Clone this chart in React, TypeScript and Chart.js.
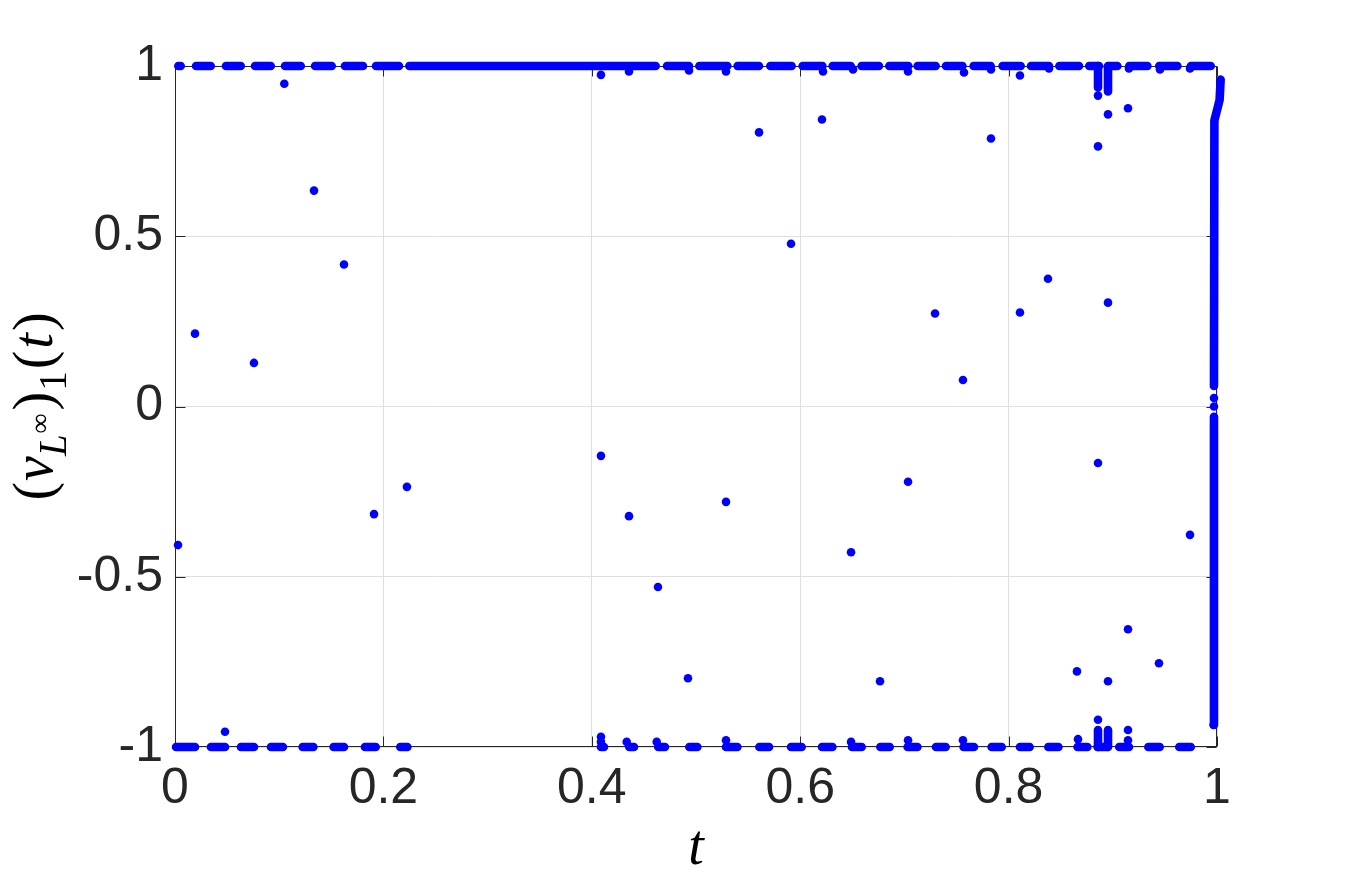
import React, { useEffect, useRef } from "react";
import { Chart, registerables } from "chart.js";

Chart.register(...registerables);

// ---- axis ticks ----
const xTickValues = [0, 0.2, 0.4, 0.6, 0.8, 1];
const xTickLabels = ["0", "0.2", "0.4", "0.6", "0.8", "1"];
const yTickValues = [-1, -0.5, 0, 0.5, 1];
const yTickLabels = ["-1", "-0.5", "0", "0.5", "1"];

// ---- dense runs of points sitting on y = 1 (start / end of each run in t) ----
const topRunStart = [0.0032, 0.0202, 0.0489, 0.0768, 0.1056, 0.1344, 0.1631, 0.1929, 0.2249, 0.4722, 0.5032, 0.5399, 0.5713, 0.6023, 0.6311, 0.6589, 0.6855, 0.7127, 0.7399, 0.7664, 0.7942, 0.8215, 0.8487, 0.8774, 0.8966, 0.9158, 0.9446, 0.975];
const topRunEnd = [0.0055, 0.0343, 0.0631, 0.0919, 0.1207, 0.1504, 0.1804, 0.215, 0.4613, 0.4933, 0.5301, 0.5605, 0.5918, 0.6213, 0.6485, 0.6756, 0.7038, 0.73, 0.7557, 0.7828, 0.8116, 0.8388, 0.8676, 0.8868, 0.9044, 0.9332, 0.962, 0.994];

// ---- dense runs of points sitting on y = -1 ----
const bottomRunStart = [0.001, 0.0345, 0.0633, 0.0921, 0.1225, 0.1522, 0.1823, 0.2162, 0.4088, 0.436, 0.4638, 0.4936, 0.5288, 0.5608, 0.5912, 0.6209, 0.6497, 0.6769, 0.7031, 0.7303, 0.7568, 0.7837, 0.8109, 0.8381, 0.8662, 0.8854, 0.9062, 0.9341, 0.9638];
const bottomRunEnd = [0.0192, 0.048, 0.0758, 0.1036, 0.1328, 0.1622, 0.1926, 0.223, 0.4117, 0.4405, 0.4702, 0.5013, 0.5397, 0.5701, 0.6014, 0.6309, 0.659, 0.6859, 0.7125, 0.7396, 0.7668, 0.7934, 0.8202, 0.8478, 0.8756, 0.8948, 0.9155, 0.945, 0.9748];

// ---- near-vertical runs (t0, y0) -> (t1, y1) ----
const vRunT0 = [0.8858, 0.8954, 0.8858, 0.8954, 0.9966, 0.9971, 0.9975, 1.0025];
const vRunY0 = [1, 1, -1, -1, -0.935, 0.06, 0.84, 0.9];
const vRunT1 = [0.8858, 0.8954, 0.8858, 0.8954, 0.9971, 0.9975, 1.0025, 1.0035];
const vRunY1 = [0.937, 0.925, -0.95, -0.95, -0.03, 0.84, 0.9, 0.96];

// ---- points just off the +/-1 levels ----
const nearEdgeT = [0.4088, 0.4357, 0.4933, 0.5288, 0.6219, 0.6507, 0.7035, 0.7572, 0.7831, 0.8109, 0.8388, 0.9155, 0.9453, 0.9741, 0.8858, 0.8954,
  0.4088, 0.4088, 0.4335, 0.4623, 0.5288, 0.6488, 0.7035, 0.7562, 0.8666, 0.8858, 0.9146, 0.9146, 0.9971, 0.9971];
const nearEdgeY = [0.974, 0.984, 0.987, 0.984, 0.984, 0.99, 0.984, 0.981, 0.99, 0.972, 0.993, 0.993, 0.99, 0.993, 0.913, 0.858,
  -0.97, -0.985, -0.985, -0.985, -0.98, -0.985, -0.98, -0.98, -0.977, -0.92, -0.95, -0.98, 0.0, 0.025];

// ---- scattered points ----
const scatterT = [0.0029, 0.0192, 0.048, 0.0758, 0.1049, 0.1334, 0.1622, 0.191, 0.2226, 0.4088, 0.4357, 0.4635, 0.4923, 0.5288, 0.5605, 0.5912, 0.6209, 0.6488, 0.6766, 0.7035, 0.7294, 0.7562, 0.7831, 0.8109, 0.8378, 0.8656, 0.8858, 0.8858, 0.8954, 0.8954, 0.9146, 0.9146, 0.9443, 0.9741];
const scatterV = [-0.407, 0.214, -0.955, 0.128, 0.948, 0.634, 0.417, -0.316, -0.236, -0.145, -0.322, -0.53, -0.798, -0.28, 0.805, 0.478, 0.843, -0.428, -0.807, -0.221, 0.273, 0.078, 0.787, 0.276, 0.375, -0.778, -0.166, 0.764, 0.305, -0.807, 0.876, -0.654, -0.754, -0.377];

const BLUE = "#0000ff";
const INK = "#262626";
const DOT_R = 4.3;

function runsAtLevel(starts: number[], ends: number[], level: number) {
  const out: any[] = [];
  starts.forEach((s, i) => {
    out.push({ x: s, y: level }, { x: ends[i], y: level }, { x: ends[i], y: null });
  });
  return out;
}

function vRuns() {
  const out: any[] = [];
  vRunT0.forEach((t0, i) => {
    out.push({ x: t0, y: vRunY0[i] }, { x: vRunT1[i], y: vRunY1[i] }, { x: vRunT1[i], y: null });
  });
  return out;
}

const framePlugin = {
  id: "matlabFrame",
  beforeDatasetsDraw(chart: any) {
    const { ctx, chartArea: a, scales } = chart;
    ctx.save();
    ctx.strokeStyle = INK;
    ctx.lineWidth = 1;
    const L = Math.round(a.left) + 0.5;
    const R = Math.round(a.right) - 0.5;
    const T = Math.round(a.top) + 0.5;
    const B = Math.round(a.bottom) - 0.5;
    ctx.strokeRect(L, T, R - L, B - T);
    const tl = 10;
    ctx.beginPath();
    for (const v of xTickValues) {
      const px = Math.round(scales.x.getPixelForValue(v)) + 0.5;
      ctx.moveTo(px, B);
      ctx.lineTo(px, B - tl);
      ctx.moveTo(px, T);
      ctx.lineTo(px, T + tl);
    }
    for (const v of yTickValues) {
      const py = Math.round(scales.y.getPixelForValue(v)) + 0.5;
      ctx.moveTo(L, py);
      ctx.lineTo(L + tl, py);
      ctx.moveTo(R, py);
      ctx.lineTo(R - tl, py);
    }
    ctx.stroke();
    ctx.restore();
  },
};

const titlePlugin = {
  id: "mathTitles",
  afterDraw(chart: any) {
    const { ctx, chartArea: a } = chart;
    const S = 56;
    const serif = "'Liberation Serif', 'Times New Roman', serif";
    ctx.save();
    ctx.fillStyle = "#000000";
    // x label
    ctx.font = `italic ${S}px ${serif}`;
    ctx.textAlign = "center";
    ctx.textBaseline = "alphabetic";
    ctx.fillText("t", (a.left + a.right) / 2, 864);

    // y label: (v_{L^\infty})_1(t)
    const sub = Math.round(S * 0.7);
    const sup = Math.round(S * 0.5);
    const pieces = [
      { t: "(", f: `${S}px ${serif}`, dy: 0, gap: 0 },
      { t: "v", f: `italic ${S}px ${serif}`, dy: 0, gap: 1 },
      { t: "L", f: `italic ${sub}px ${serif}`, dy: S * 0.25, gap: 0 },
      { t: "\u221e", f: `${sup}px ${serif}`, dy: -S * 0.05, gap: 1 },
      { t: ")", f: `${S}px ${serif}`, dy: 0, gap: 3 },
      { t: "1", f: `${sub}px ${serif}`, dy: S * 0.25, gap: 1 },
      { t: "(", f: `${S}px ${serif}`, dy: 0, gap: 2 },
      { t: "t", f: `italic ${S}px ${serif}`, dy: 0, gap: 2 },
      { t: ")", f: `${S}px ${serif}`, dy: 0, gap: 2 },
    ];
    let total = 0;
    const widths = pieces.map((p) => {
      ctx.font = p.f;
      const w = ctx.measureText(p.t).width;
      total += w + p.gap;
      return w;
    });
    const cy = (a.top + a.bottom) / 2;
    ctx.translate(52, cy);
    ctx.rotate(-Math.PI / 2);
    ctx.textAlign = "left";
    let u = -total / 2;
    pieces.forEach((p, i) => {
      u += p.gap;
      ctx.font = p.f;
      ctx.fillText(p.t, u, p.dy);
      u += widths[i];
    });
    ctx.restore();
  },
};

export default function App() {
  const ref = useRef<HTMLCanvasElement | null>(null);

  useEffect(() => {
    if (!ref.current) return;
    const tickFont = { family: "'Liberation Sans', Arial, Helvetica, sans-serif", size: 50 };
    const lineStyle = {
      showLine: true,
      borderColor: BLUE,
      borderWidth: DOT_R * 2,
      borderCapStyle: "round",
      borderJoinStyle: "round",
      pointRadius: 0,
      pointHoverRadius: 0,
      spanGaps: false,
      clip: false,
    };
    const chart = new Chart(ref.current, {
      type: "scatter",
      data: {
        datasets: [
          { ...lineStyle, data: runsAtLevel(topRunStart, topRunEnd, 1) } as any,
          { ...lineStyle, data: runsAtLevel(bottomRunStart, bottomRunEnd, -1) } as any,
          { ...lineStyle, data: vRuns() } as any,
          {
            data: nearEdgeT.map((t, i) => ({ x: t, y: nearEdgeY[i] })),
            pointRadius: DOT_R,
            pointBorderWidth: 0,
            pointBackgroundColor: BLUE,
            clip: false,
          } as any,
          {
            data: scatterT.map((t, i) => ({ x: t, y: scatterV[i] })),
            pointRadius: DOT_R,
            pointBorderWidth: 0,
            pointBackgroundColor: BLUE,
            clip: false,
          } as any,
        ],
      },
      options: {
        responsive: false,
        animation: false,
        devicePixelRatio: 1,
        layout: { padding: { top: 66, right: 129, bottom: 0, left: 0 } },
        plugins: { legend: { display: false }, tooltip: { enabled: false } },
        events: [],
        scales: {
          x: {
            type: "linear",
            min: 0,
            max: 1,
            afterBuildTicks: (s: any) => {
              s.ticks = xTickValues.map((v) => ({ value: v }));
            },
            afterFit: (s: any) => {
              s.height = 139;
            },
            grid: { color: "#dfdfdf", lineWidth: 1, drawTicks: false },
            border: { display: false },
            ticks: {
              font: tickFont,
              color: INK,
              padding: 12,
              maxRotation: 0,
              autoSkip: false,
              callback: (_v: any, i: number) => xTickLabels[i],
            },
          },
          y: {
            type: "linear",
            min: -1,
            max: 1,
            afterBuildTicks: (s: any) => {
              s.ticks = yTickValues.map((v) => ({ value: v }));
            },
            afterFit: (s: any) => {
              s.width = 175;
            },
            grid: { color: "#dfdfdf", lineWidth: 1, drawTicks: false },
            border: { display: false },
            ticks: {
              font: tickFont,
              color: INK,
              padding: 12,
              autoSkip: false,
              callback: (_v: any, i: number) => yTickLabels[i],
            },
          },
        },
      } as any,
      plugins: [framePlugin, titlePlugin],
    });
    return () => chart.destroy();
  }, []);

  return (
    <div style={{ position: "absolute", left: 0, top: 0, width: 1346, height: 886, background: "#ffffff" }}>
      <canvas ref={ref} width={1346} height={886} style={{ display: "block" }} />
    </div>
  );
}
